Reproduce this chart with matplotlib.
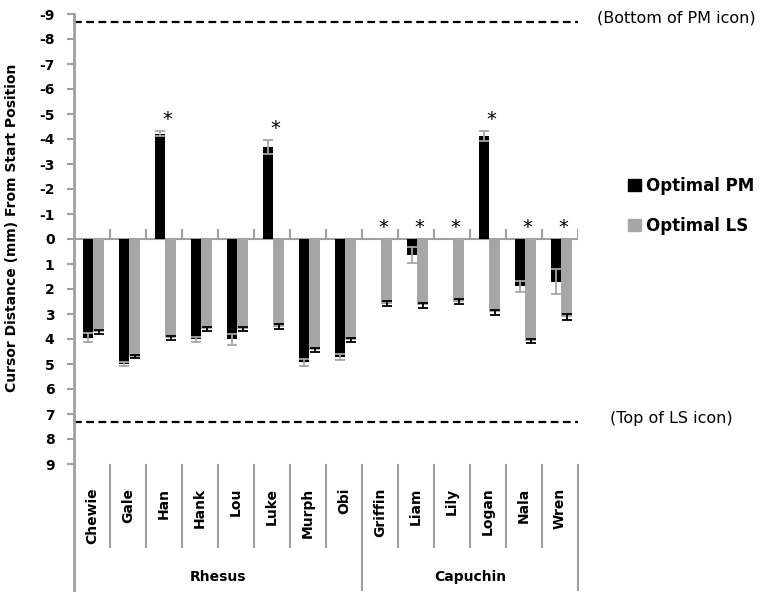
import numpy as np
import matplotlib
matplotlib.use("Agg")
import matplotlib.pyplot as plt
from matplotlib.patches import Patch

plt.rcParams['axes.unicode_minus'] = False
plt.rcParams['font.family'] = ['DejaVu Sans']

names = ['Chewie', 'Gale', 'Han', 'Hank', 'Lou', 'Luke', 'Murph', 'Obi',
         'Griffin', 'Liam', 'Lily', 'Logan', 'Nala', 'Wren']
groups = ['Rhesus', 'Capuchin']
group_sizes = [8, 6]
pm = [3.95, 5.0, -4.22, 4.0, 4.0, -3.7, 4.93, 4.71, 0, 0.64, 0, -4.13, 1.88, 1.7]
pm_err = [0.18, 0.07, 0.1, 0.1, 0.22, 0.28, 0.13, 0.12, 0, 0.32, 0, 0.2, 0.22, 0.5]
ls = [3.72, 4.7, 3.95, 3.6, 3.6, 3.5, 4.45, 4.02, 2.58, 2.65, 2.5, 2.93, 4.08, 3.12]
ls_err = [0.07, 0.06, 0.07, 0.08, 0.07, 0.1, 0.08, 0.08, 0.1, 0.1, 0.1, 0.1, 0.09, 0.12]
signif = [False, False, True, False, False, True, False, False,
          True, True, True, True, True, True]
pm_icon = -8.7
ls_icon = 7.3

BLACK = '#000000'
GREY = '#a6a6a6'
AXC = '#a0a0a0'

fig = plt.figure(figsize=(7.65, 5.93), dpi=100)
ax = fig.add_axes([74/765, 1-464/593, (578-74)/765, 450/593])

x = np.arange(len(names))
pm = np.array(pm)
pm_err = np.array(pm_err)
ls = np.array(ls)
ls_err = np.array(ls_err)
w = 0.3
xb = x - 0.11
xg = x + 0.19

ax.bar(xb, pm, width=w, color=BLACK, zorder=2)
ax.bar(xg, ls, width=w, color=GREY, zorder=2)
m = pm_err > 0
ax.errorbar(xb[m], pm[m], yerr=pm_err[m], fmt='none', ecolor=GREY,
            elinewidth=1.3, capsize=3.5, capthick=1.3, zorder=3)
ax.errorbar(xg, ls, yerr=ls_err, fmt='none', ecolor=BLACK,
            elinewidth=1.3, capsize=3.5, capthick=1.3, zorder=3)

# stars above significant animals
for i in range(len(names)):
    if signif[i]:
        top = min(pm[i] - pm_err[i], 0)
        ax.text(x[i] + 0.08, top - 0.45, '*', ha='center', va='center',
                fontsize=14)

ax.set_xlim(-0.5, 13.5)
ax.set_ylim(9, -9)
ax.set_yticks(range(-9, 10))
ax.set_yticklabels([str(v) for v in range(-9, 10)], fontsize=10, fontweight='bold')
ax.tick_params(axis='y', length=5, width=1.5, color=AXC, pad=9)

for s in ['top', 'right', 'bottom']:
    ax.spines[s].set_visible(False)
ax.spines['left'].set_color(AXC)
ax.spines['left'].set_linewidth(2)

ax.set_xticks(x)
ax.set_xticklabels(names, rotation=90, fontsize=10, fontweight='bold', va='top')
ax.tick_params(axis='x', length=0, pad=17)

ax.axhline(0, color=AXC, lw=1.5, zorder=1)
for b in np.arange(0.5, 14, 1):
    ax.plot([b, b], [0, -0.36], color=AXC, lw=1.5, zorder=1)

# dashed icon lines
ax.axhline(pm_icon, color='black', lw=1.6, ls=(0, (3.5, 2)), clip_on=False)
ax.axhline(ls_icon, color='black', lw=1.6, ls=(0, (3.5, 2)), clip_on=False)
fig.text(597/765, 1-18/593, '(Bottom of PM icon)', fontsize=11.5, va='center')
fig.text(610/765, 1-418/593, '(Top of LS icon)', fontsize=11.5, va='center')

# category separator lines under the axis
tr = ax.get_xaxis_transform()
for b in np.arange(0.5, 13, 1):
    if b == 7.5:
        continue
    ax.plot([b, b], [-0.002, -0.184], color=AXC, lw=1.5, transform=tr, clip_on=False)
start = -0.5
for g, n in zip(groups, group_sizes):
    ax.plot([start + n, start + n], [-0.002, -0.28], color=AXC, lw=1.5,
            transform=tr, clip_on=False)
    ax.text(start + n / 2, -0.251, g, transform=tr, ha='center', va='center',
            fontsize=10, fontweight='bold')
    start += n
ax.plot([-0.5, -0.5], [0, -0.28], color=AXC, lw=2, transform=tr, clip_on=False)

ax.set_ylabel('Cursor Distance (mm) From Start Position', fontsize=10,
              fontweight='bold')
ax.yaxis.set_label_coords(-0.11, 0.524)

handles = [Patch(color=BLACK, label='Optimal PM'), Patch(color=GREY, label='Optimal LS')]
fig.legend(handles=handles, loc='upper left', bbox_to_anchor=(613/765, 1-162/593),
           frameon=False, prop={'size': 12, 'weight': 'bold'},
           handlelength=0.75, handleheight=0.75, handletextpad=0.35,
           labelspacing=1.3)

fig.savefig('out.png', dpi=100)
